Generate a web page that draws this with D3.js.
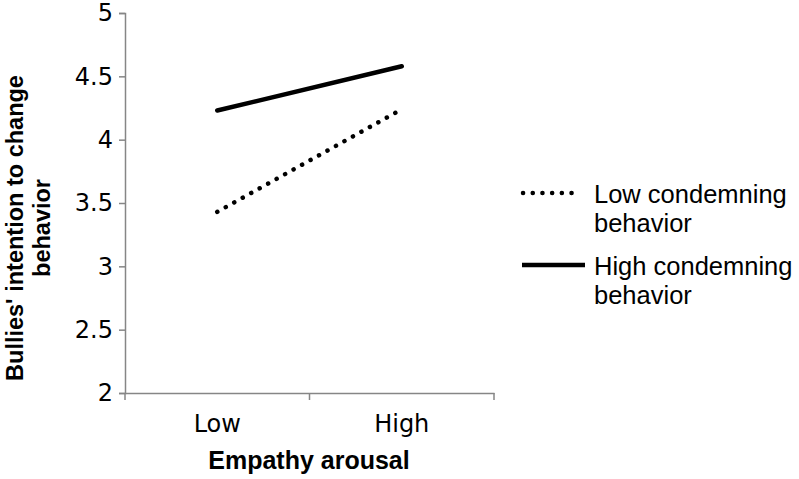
<!DOCTYPE html>
<html><head><meta charset="utf-8">
<script src="https://cdn.jsdelivr.net/npm/d3@7/dist/d3.min.js"></script>
<style>body{margin:0;background:#fff}</style>
</head><body>
<svg id="c" width="799" height="479"></svg>
<script>
const categories = ["Low", "High"];
const seriesNames = ["Low condemning behavior", "High condemning behavior"];
const lowCondemning = [3.43, 4.24];
const highCondemning = [4.23, 4.58];
const yTicks = [2, 2.5, 3, 3.5, 4, 4.5, 5];

(function () {
const svg = d3.select("#c");
const pLeft = 125, pRight = 494, pTop = 13, pBottom = 393;
const x = d3.scaleBand().domain(categories).range([pLeft, pRight]);
const y = d3.scaleLinear().domain([2, 5]).range([pBottom, pTop]);
const axisColor = "#868686";

// y axis
const ya = svg.append("g").attr("transform", `translate(${pLeft},0)`)
  .call(d3.axisLeft(y).tickValues(yTicks).tickSize(6).tickPadding(6).tickFormat(d => String(d)));
ya.select(".domain").attr("stroke", axisColor).attr("stroke-width", 1.5);
ya.selectAll(".tick line").attr("stroke", axisColor).attr("stroke-width", 1.5);
ya.selectAll(".tick text").attr("font-family", "DejaVu Sans").attr("font-size", 24).attr("fill", "#000");

// x axis
const xa = svg.append("g").attr("transform", `translate(0,${pBottom})`)
  .call(d3.axisBottom(x).tickSize(0).tickPadding(22));
xa.select(".domain").attr("stroke", axisColor).attr("stroke-width", 1.5);
xa.selectAll(".tick text").attr("font-family", "DejaVu Sans").attr("font-size", 24).attr("fill", "#000");
const bounds = [pLeft, pLeft + x.bandwidth(), pRight];
svg.append("g").selectAll("line").data(bounds).join("line")
  .attr("x1", d => d).attr("x2", d => d).attr("y1", pBottom).attr("y2", pBottom + 7)
  .attr("stroke", axisColor).attr("stroke-width", 1.5);

// lines
const line = d3.line().x((d, i) => x(categories[i]) + x.bandwidth() / 2).y(d => y(d));
svg.append("path").datum(lowCondemning).attr("d", line)
  .attr("fill", "none").attr("stroke", "#000").attr("stroke-width", 4.5)
  .attr("stroke-linecap", "round").attr("stroke-dasharray", "0.1 9.6");
svg.append("path").datum(highCondemning).attr("d", line)
  .attr("fill", "none").attr("stroke", "#000").attr("stroke-width", 4.5)
  .attr("stroke-linecap", "round");

// axis titles
svg.append("text").attr("x", 309).attr("y", 469)
  .attr("text-anchor", "middle").attr("font-family", "Liberation Sans, Arial")
  .attr("font-weight", "bold").attr("font-size", 25).text("Empathy arousal");
const yt = svg.append("text").attr("transform", "translate(0,228) rotate(-90)")
  .attr("text-anchor", "middle").attr("font-family", "Liberation Sans, Arial")
  .attr("font-weight", "bold").attr("font-size", 23.5);
yt.append("tspan").attr("x", 0).attr("y", 23).text("Bullies' intention to change");
yt.append("tspan").attr("x", 0).attr("y", 50).text("behavior");

// legend
const leg = svg.append("g");
const legY = [193, 265];
const legText = [["Low condemning", "behavior"], ["High condemning", "behavior"]];
leg.append("line").attr("x1", 523).attr("x2", 581).attr("y1", legY[0]).attr("y2", legY[0])
  .attr("stroke", "#000").attr("stroke-width", 4.5).attr("stroke-linecap", "round").attr("stroke-dasharray", "0.1 9.6");
leg.append("line").attr("x1", 522).attr("x2", 585).attr("y1", legY[1]).attr("y2", legY[1])
  .attr("stroke", "#000").attr("stroke-width", 4.5);
legText.forEach((t, i) => {
  const tx = leg.append("text").attr("font-family", "Liberation Sans, Arial").attr("font-size", 25.5).attr("fill", "#000");
  tx.append("tspan").attr("x", 594).attr("y", legY[i] + 10).text(t[0]);
  tx.append("tspan").attr("x", 594).attr("y", legY[i] + 39).text(t[1]);
});
})();
</script>
</body></html>
